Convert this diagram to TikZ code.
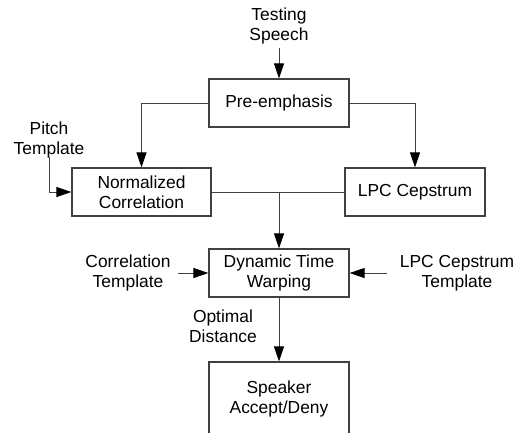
\documentclass[tikz,border=0pt]{standalone}
\usepackage{fontspec}
\setmainfont{Liberation Sans}
\usetikzlibrary{arrows.meta}
\begin{document}
\begin{tikzpicture}[x=1pt,y=-1pt,
  every node/.style={font=\fontsize{17.4}{20}\selectfont, align=center, text=black},
  blk/.style={draw=black!75, line width=1.2pt, minimum width=140pt, minimum height=48pt, inner sep=0pt},
  lbl/.style={inner sep=2pt},
  ln/.style={draw=black!75, line width=1pt},
  arr/.style={ln, -{Triangle[length=15pt,width=10pt,color=black]}}]
\useasboundingbox (0,0) rectangle (518,432);
\clip (0,0) rectangle (518,432);
\fill[white] (0,0) rectangle (518,432);
% blocks
\node[blk] (pre) at (279,103) {Pre-emphasis};
\node[blk, minimum width=139pt] (nc) at (141.5,192) {Normalized\\Correlation};
\node[blk] (lpc) at (415,192) {LPC Cepstrum};
\node[blk] (dtw) at (279,273) {Dynamic Time\\Warping};
\node[blk, minimum height=74pt] (spk) at (279,399) {Speaker\\Accept/Deny};
% labels
\node[lbl] (ts) at (279,26) {Testing\\Speech};
\node[lbl] (pt) at (49,140) {Pitch\\Template};
\node[lbl] (ct) at (128,273) {Correlation\\Template};
\node[lbl] (lt) at (457,273) {LPC Cepstrum\\Template};
\node[lbl] (od) at (223,326) {Optimal\\Distance};
% free ends
\coordinate (tsE) at (279,48);
\coordinate (ptE) at (49,157);
\coordinate (ctE) at (178,273);
\coordinate (ltE) at (387,273);
\coordinate (j) at (279,192);
% connectors
\draw[arr] (tsE) -- (pre.north);
\draw[arr] (pre.west) -| (nc.north);
\draw[arr] (pre.east) -| (lpc.north);
\draw[arr] (ptE) |- (nc.west);
\draw[ln] (nc.east) -- (lpc.west);
\draw[arr] (j) -- (dtw.north);
\draw[arr] (ctE) -- (dtw.west);
\draw[arr] (ltE) -- (dtw.east);
\draw[arr] (dtw.south) -- (spk.north);
\end{tikzpicture}
\end{document}
